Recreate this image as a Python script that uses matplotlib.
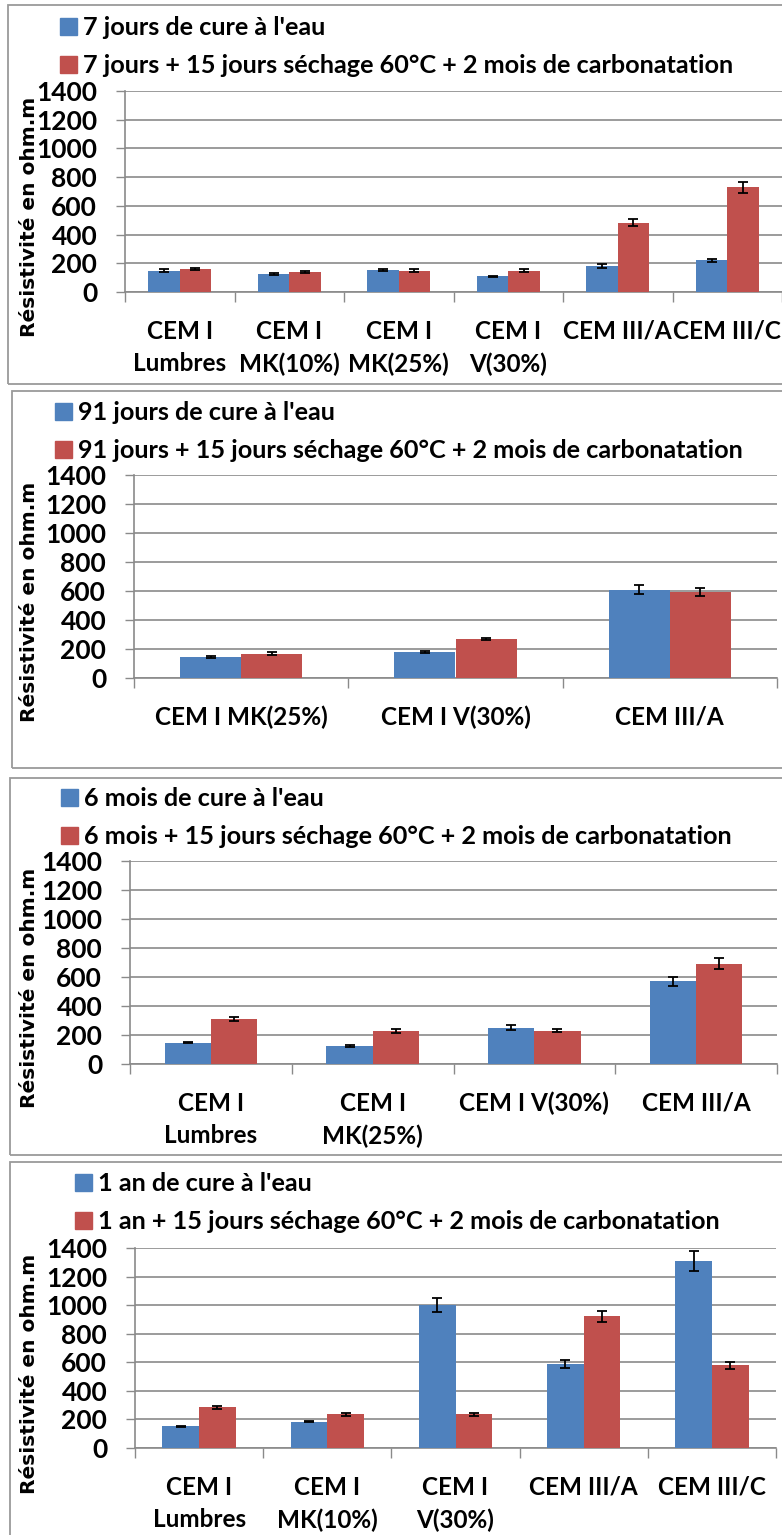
import numpy as np
import matplotlib.pyplot as plt
from matplotlib.patches import Rectangle, Patch

W, H = 782, 1535
BLUE = '#4F81BD'
RED = '#C0504D'
GRID = '#8A8A8A'
FONT = 'Lato'

# resistivity (ohm.m)
cat_7j = ['CEM I\nLumbres', 'CEM I\nMK(10%)', 'CEM I\nMK(25%)', 'CEM I\nV(30%)', 'CEM III/A', 'CEM III/C']
eau_7j = [148, 125, 151, 109, 181, 220]
err_eau_7j = [10, 6, 6, 5, 12, 10]
carb_7j = [158, 139, 148, 148, 482, 728]
err_carb_7j = [6, 6, 10, 10, 25, 35]

cat_91j = ['CEM I MK(25%)', 'CEM I V(30%)', 'CEM III/A']
eau_91j = [145, 177, 610]
err_eau_91j = [10, 8, 28]
carb_91j = [168, 269, 592]
err_carb_91j = [10, 8, 28]

cat_6m = ['CEM I\nLumbres', 'CEM I\nMK(25%)', 'CEM I V(30%)', 'CEM III/A']
eau_6m = [147, 124, 251, 569]
err_eau_6m = [5, 5, 15, 30]
carb_6m = [311, 229, 229, 693]
err_carb_6m = [15, 12, 10, 35]

cat_1an = ['CEM I\nLumbres', 'CEM I\nMK(10%)', 'CEM I\nV(30%)', 'CEM III/A', 'CEM III/C']
eau_1an = [152, 184, 1003, 588, 1310]
err_eau_1an = [5, 5, 50, 25, 70]
carb_1an = [285, 236, 236, 922, 579]
err_carb_1an = [12, 12, 12, 40, 25]

fig = plt.figure(figsize=(W / 100, H / 100), dpi=100)


def px_rect(x0, y0, x1, y1):
    return [x0 / W, 1 - y1 / H, (x1 - x0) / W, (y1 - y0) / H]


def panel(box, axpx, legpx, cats, eau, err_eau, carb, err_carb, lab_eau, lab_carb):
    bx0, by0, by1 = box
    fig.add_artist(Rectangle((bx0 / W, 1 - by1 / H), (W + 20 - bx0) / W, (by1 - by0) / H,
                             transform=fig.transFigure, fill=False, edgecolor='#9A9A9A', lw=1.3))
    ax = fig.add_axes(px_rect(*axpx))
    x = np.arange(len(cats))
    w = 1 / 3.5
    ekw = dict(elinewidth=1.3, capthick=1.3, ecolor='black')
    ax.bar(x - w / 2, eau, w, yerr=err_eau, color=BLUE, capsize=3.5, error_kw=ekw, zorder=3)
    ax.bar(x + w / 2, carb, w, yerr=err_carb, color=RED, capsize=3.5, error_kw=ekw, zorder=3)
    ax.set_xlim(-0.5, len(cats) - 0.5)
    ax.set_ylim(0, 1400)
    ax.set_yticks(np.arange(0, 1401, 200))
    ax.yaxis.grid(True, color=GRID, lw=1.2)
    ax.set_axisbelow(True)
    ax.set_xticks(x)
    ax.set_xticklabels(cats, linespacing=1.5, fontsize=17.5, family=FONT, weight='bold')
    ax.set_xticks(np.arange(len(cats) + 1) - 0.5, minor=True)
    ax.tick_params(axis='x', which='major', length=0, pad=20)
    ax.tick_params(axis='x', which='minor', length=7.2, color=GRID, width=1)
    ax.tick_params(axis='y', length=6.5, color=GRID, width=1, pad=13.5, labelsize=19)
    for t in ax.get_yticklabels():
        t.set_family(FONT)
        t.set_weight('bold')
    for s in ['top', 'right']:
        ax.spines[s].set_visible(False)
    for s in ['left', 'bottom']:
        ax.spines[s].set_color(GRID)
        ax.spines[s].set_linewidth(1.2)
    ax.set_ylabel('Résistivité en ohm.m', fontsize=14.5, weight='bold', family='DejaVu Sans')
    ax.yaxis.label.set_va('center')
    ax.yaxis.set_label_coords((30 - axpx[0]) / (axpx[2] - axpx[0]), 0.373)
    lx, ly = legpx
    fig.legend(handles=[Patch(color=BLUE), Patch(color=RED)], labels=[lab_eau, lab_carb],
               loc='upper left', bbox_to_anchor=(lx / W, 1 - ly / H), frameon=False,
               prop=dict(family=FONT, size=18.2, weight='bold'), handlelength=0.66, handleheight=0.66,
               handletextpad=0.25, labelspacing=0.6, borderpad=0, borderaxespad=0)
    return ax


panel((8, 5, 384), (125, 91, 782, 292), (60, 16), cat_7j, eau_7j, err_eau_7j, carb_7j, err_carb_7j,
      "7 jours de cure à l'eau", '7 jours + 15 jours séchage 60°C + 2 mois de carbonatation')
panel((12, 391, 768), (134, 475, 777, 678), (55, 401), cat_91j, eau_91j, err_eau_91j, carb_91j, err_carb_91j,
      "91 jours de cure à l'eau", '91 jours + 15 jours séchage 60°C + 2 mois de carbonatation')
panel((10, 778, 1155), (130, 861, 777, 1064), (61, 787), cat_6m, eau_6m, err_eau_6m, carb_6m, err_carb_6m,
      "6 mois de cure à l'eau", '6 mois + 15 jours séchage 60°C + 2 mois de carbonatation')
panel((10, 1162, 1560), (135, 1248, 776, 1448), (75, 1172), cat_1an, eau_1an, err_eau_1an, carb_1an, err_carb_1an,
      "1 an de cure à l'eau", '1 an + 15 jours séchage 60°C + 2 mois de carbonatation')

fig.savefig('out.png', dpi=100)
